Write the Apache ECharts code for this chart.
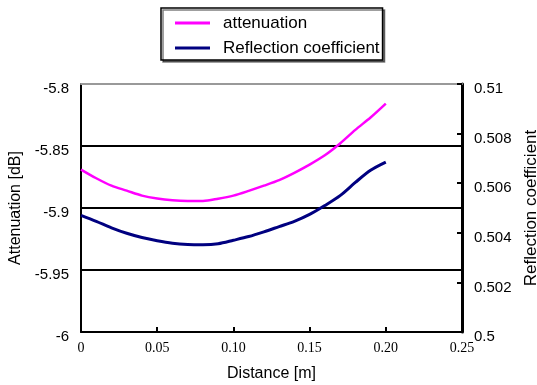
<!DOCTYPE html>
<html><head><meta charset="utf-8">
<script src="https://cdn.jsdelivr.net/npm/echarts@6/dist/echarts.min.js"></script>
<style>html,body{margin:0;padding:0;background:#fff}#c{width:537px;height:385px}</style>
</head><body><div id="c"></div>
<script>
const distance = [0,0.01,0.02,0.03,0.04,0.05,0.06,0.07,0.08,0.09,0.10,0.11,0.12,0.13,0.14,0.15,0.16,0.17,0.18,0.19,0.20];
const attenuation = [-5.869,-5.876,-5.882,-5.886,-5.890,-5.8924,-5.8938,-5.8943,-5.8943,-5.8925,-5.8900,-5.8862,-5.8820,-5.8775,-5.8716,-5.8650,-5.8575,-5.8480,-5.8370,-5.8270,-5.8158];
const reflection = [0.50470,0.50446,0.50420,0.50398,0.50381,0.50368,0.50358,0.50353,0.50352,0.50356,0.50370,0.50385,0.50404,0.50425,0.50446,0.50474,0.50510,0.50550,0.50603,0.50652,0.50685];
const seriesNames = ['attenuation','Reflection coefficient'];
const xTicks = ['0','0.05','0.10','0.15','0.20','0.25'];
const leftTicks = ['-6','-5.95','-5.9','-5.85','-5.8'];
const rightTicks = ['0.5','0.502','0.504','0.506','0.508','0.51'];

const chart = echarts.init(document.getElementById('c'), null, {renderer:'canvas'});
const sans = 'Liberation Sans, Arial, sans-serif';
const serif = 'Liberation Serif, Times New Roman, serif';
chart.setOption({
  animation:false,
  backgroundColor:'#fff',
  legend:{
    orient:'vertical', left:161, top:8,
    padding:[6,3,3,14], itemGap:7,
    icon:'rect', itemWidth:35, itemHeight:3,
    borderColor:'#000', borderWidth:1.5, borderRadius:0,
    shadowColor:'rgba(0,0,0,0.5)', shadowOffsetX:2, shadowOffsetY:2, shadowBlur:0,
    backgroundColor:'#fff',
    textStyle:{fontFamily:sans, fontSize:17, color:'#000', padding:[0,0,0,8], lineHeight:18},
    data:seriesNames
  },
  grid:{left:81, right:75, top:84, bottom:53, containLabel:false, outerBoundsMode:'none'},
  xAxis:[{
    type:'value', min:0, max:0.25, interval:0.05,
    name:'Distance [m]', nameLocation:'middle', nameGap:34,
    nameTextStyle:{fontFamily:sans, fontSize:16, color:'#000'},
    axisLine:{onZero:false, lineStyle:{color:'#000', width:2}},
    axisTick:{inside:true, length:5, lineStyle:{color:'#000', width:2}},
    axisLabel:{margin:9, fontFamily:serif, fontSize:14, color:'#000',
      formatter:(v)=>xTicks[Math.round(v/0.05)]},
    splitLine:{show:false}
  },{
    type:'value', min:0, max:0.25, position:'top',
    axisLine:{onZero:false, lineStyle:{color:'#999', width:2}},
    axisTick:{show:false}, axisLabel:{show:false}, splitLine:{show:false}
  }],
  yAxis:[{
    type:'value', min:-6, max:-5.8, interval:0.05,
    name:'Attenuation [dB]', nameLocation:'middle', nameGap:49, nameRotate:90,
    nameTextStyle:{fontFamily:sans, fontSize:16, color:'#000'},
    axisLine:{show:true, onZero:false, lineStyle:{color:'#000', width:2}},
    axisTick:{show:false},
    axisLabel:{margin:12, fontFamily:sans, fontSize:15, color:'#000', verticalAlign:'top', lineHeight:10,
      formatter:(v)=>leftTicks[Math.round((v+6)/0.05)]},
    splitLine:{show:true, showMinLine:false, showMaxLine:false, lineStyle:{color:'#000', width:2}}
  },{
    type:'value', min:0.5, max:0.51, interval:0.002, position:'right',
    name:'Reflection coefficient', nameLocation:'middle', nameGap:59, nameRotate:90,
    nameTextStyle:{fontFamily:sans, fontSize:17, color:'#000'},
    axisLine:{show:true, onZero:false, lineStyle:{color:'#000', width:3}},
    axisTick:{show:true, inside:true, length:5, lineStyle:{color:'#000', width:2}},
    axisLabel:{margin:12, fontFamily:sans, fontSize:15, color:'#000', verticalAlign:'top', lineHeight:10,
      formatter:(v)=>rightTicks[Math.round((v-0.5)/0.002)]},
    splitLine:{show:false}
  }],
  series:[{
    name:seriesNames[0], type:'line', xAxisIndex:0, yAxisIndex:0,
    data:distance.map((d,i)=>[d,attenuation[i]]),
    showSymbol:false, smooth:0.3, color:'#FF00FF',
    lineStyle:{color:'#FF00FF', width:2.5}
  },{
    name:seriesNames[1], type:'line', xAxisIndex:0, yAxisIndex:1,
    data:distance.map((d,i)=>[d,reflection[i]]),
    showSymbol:false, smooth:0.3, color:'#000080',
    lineStyle:{color:'#000080', width:3}
  }]
});
</script></body></html>
